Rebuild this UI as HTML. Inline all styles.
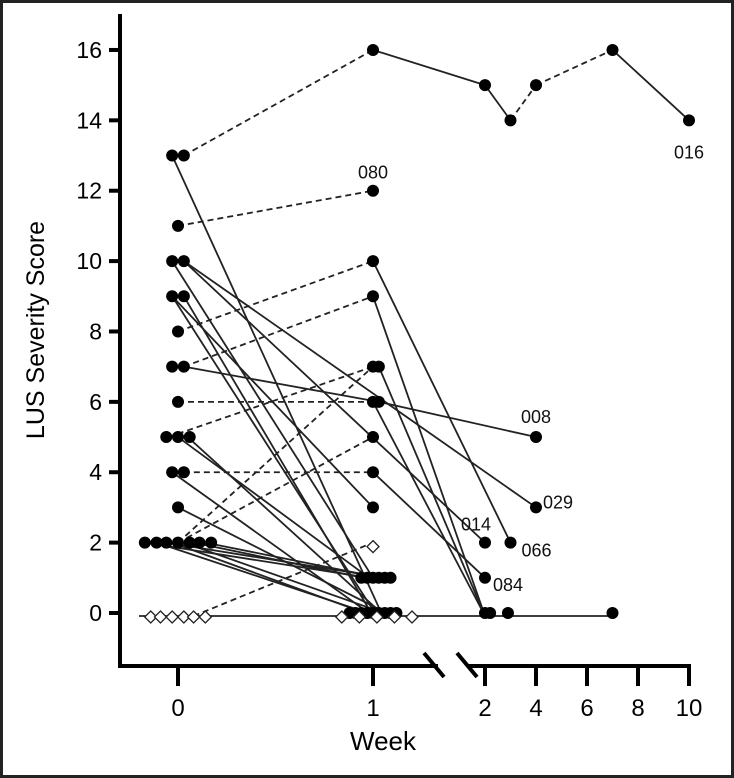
<!DOCTYPE html>
<html><head><meta charset="utf-8"><style>
html,body{margin:0;padding:0;background:#fff}
svg{display:block;font-family:"Liberation Sans",sans-serif}
</style></head><body>
<svg id="chart" width="734" height="778" viewBox="0 0 734 778">
<rect x="1.5" y="1.5" width="731" height="775" fill="#fff" stroke="#222" stroke-width="3"/>
<g id="lines"></g>
<g id="marks"></g>
<g id="axes"></g>
<g id="labels"></g>
<text x="44" y="330" transform="rotate(-90 44 330)" text-anchor="middle" font-size="25">LUS Severity Score</text>
<text x="383" y="750" text-anchor="middle" font-size="26">Week</text>
</svg>
<script>
// y ticks
const yTicks = [0,2,4,6,8,10,12,14,16];
// x ticks: segment 1 weeks, segment 2 weeks
const xTicks1 = [0,1];
const xTicks2 = [2,4,6,8,10];
// segments: [week0, score0, week1, score1, dashed]
const segStartWeek = [0.03,1,2,3,4,7,-0.03,0,0,0.03,-0.03,0.03,-0.03,0.03,0.03,1.03,0,-0.05,0,0,0.08,0.03,1,-0.03,0,0.05,0,-0.17,-0.11,-0.06,-0.03,0.03,0.08,0.14,-0.2,1.2,1,1,0.03,1.03,1,-0.03];
const segStartScore = [13,16,15,14,15,16,13,11,8,7,10,10,9,9,7,6,6,5,2,2,0,4,4,4,5,5,3,2,2,2,2,2,2,2,0,0,10,9,10,7,6,9];
const segEndWeek = [1,2,3,4,7,10,1.05,1,1,1,1,2,1.02,1,1.03,4,1,1,1,1,1,1,2,1,0.98,1.06,1.1,0.98,1.02,1.06,1.0,1.1,0.95,1.04,1.2,7,3,2,4,2,2,1];
const segEndScore = [16,15,14,15,16,14,0,12,10,9,1,2,0,0,6,5,6,7,7,5,2,4,1,0,1,0,0,1,0,1,0,0,1,1,0,0,2,0,3,0,0,3];
const segDashed = [1,0,0,1,1,0,0,1,1,1,0,0,0,0,0,0,1,1,1,1,1,1,0,0,0,0,0,0,0,0,0,0,0,0,0,0,0,0,0,0,0,0];
// filled points [week, score]
const dotWeek = [-0.03,0.03,0,-0.03,0.03,-0.03,0.03,0,-0.03,0.03,0,-0.06,0,0.06,-0.03,0.03,0,-0.17,-0.11,-0.06,0,0.06,0.11,0.17,
 1,1,1,1,1,1.03,1,1.03,1,1,1,0.94,0.97,1,1.03,1.06,1.09,0.88,0.91,0.94,0.97,1.0,1.03,1.06,1.09,1.12,
 2,3,4,7,10,4,4,2,3,2,2,2.2,2.9,7];
const dotScore = [13,13,11,10,10,9,9,8,7,7,6,5,5,5,4,4,3,2,2,2,2,2,2,2,
 16,12,10,9,7,7,6,6,5,4,3,1,1,1,1,1,1,0,0,0,0,0,0,0,0,0,
 15,14,15,16,14,5,3,2,2,1,0,0,0,0];
// open diamond points
const diaWeek = [-0.14,-0.09,-0.03,0.03,0.08,0.14,1,0.84,0.93,1.02,1.11,1.2];
const diaScore = [0,0,0,0,0,0,2,0,0,0,0,0];
// labels
const labelText = ["080","016","008","029","014","066","084"];
const labelWeek = [1,10,4,4,2,3,2];
const labelScore = [12,14,5,3,2,2,1];
const labelDx = [0,0,0,22,-9,26,23];
const labelDy = [-18,32,-20,-5,-18,8,7];

const NS="http://www.w3.org/2000/svg";
function yS(v){return 613-v*35.19;}
function xS(w){return w<1.5? 178+w*195 : 485+(w-2)*25.5;}
function mk(tag,attrs,parent){const e=document.createElementNS(NS,tag);for(const k in attrs)e.setAttribute(k,attrs[k]);parent.appendChild(e);return e;}
const gL=document.getElementById('lines'),gM=document.getElementById('marks'),gA=document.getElementById('axes'),gT=document.getElementById('labels');
for(let i=0;i<segStartWeek.length;i++){
 const l=mk('line',{x1:xS(segStartWeek[i]),y1:yS(segStartScore[i])+(segStartScore[i]===0?3:0),x2:xS(segEndWeek[i]),y2:yS(segEndScore[i])+(segEndScore[i]===0?3:0),stroke:'#222','stroke-width':1.8},gL);
 if(segDashed[i])l.setAttribute('stroke-dasharray','6 4');
 
 
}
for(let i=0;i<dotWeek.length;i++){
 const c=mk('circle',{cx:xS(dotWeek[i]),cy:yS(dotScore[i]),r:6,fill:'#000'},gM);
 
 
}
for(let i=0;i<diaWeek.length;i++){
 const x=xS(diaWeek[i]),y=yS(diaScore[i])+4;
 const p=mk('polygon',{points:`${x},${y-6} ${x+6},${y} ${x},${y+6} ${x-6},${y}`,fill:'#fff',stroke:'#222','stroke-width':1.3},gM);
 
 
}
// axes
let a=mk('line',{x1:120,y1:14,x2:120,y2:667,stroke:'#000','stroke-width':4},gA);


a=mk('line',{x1:118,y1:666,x2:438,y2:666,stroke:'#000','stroke-width':4},gA);


a=mk('line',{x1:468,y1:666,x2:691,y2:666,stroke:'#000','stroke-width':4},gA);


[[424,653,444,677],[457,653,477,677]].forEach(s=>{
 const b=mk('line',{x1:s[0],y1:s[1],x2:s[2],y2:s[3],stroke:'#000','stroke-width':4},gA);
 
 
});
yTicks.forEach(v=>{
 const t=mk('line',{x1:109,y1:yS(v),x2:120,y2:yS(v),stroke:'#000','stroke-width':4},gA);
 
 
 const tx=mk('text',{x:102,y:yS(v)+8,'text-anchor':'end','font-size':23},gA);tx.textContent=v;
 
 
});
xTicks1.concat(xTicks2).forEach(v=>{
 const x=xS(v);
 const t=mk('line',{x1:x,y1:666,x2:x,y2:686,stroke:'#000','stroke-width':4},gA);
 
 
 const tx=mk('text',{x:x,y:716,'text-anchor':'middle','font-size':24},gA);tx.textContent=v;
 
 
});
for(let i=0;i<labelText.length;i++){
 const tx=mk('text',{x:xS(labelWeek[i])+labelDx[i],y:yS(labelScore[i])+labelDy[i]+6,'text-anchor':'middle','font-size':18,fill:'#111'},gT);
 tx.textContent=labelText[i];
 
 
}
</script>
</body></html>
